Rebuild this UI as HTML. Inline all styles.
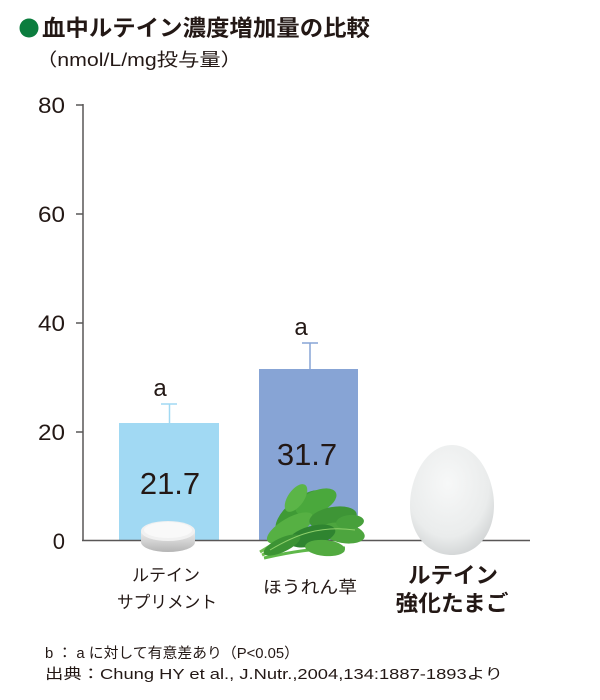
<!DOCTYPE html>
<html><head><meta charset="utf-8">
<style>
html,body{margin:0;padding:0;background:#fff;}
body{width:600px;height:700px;overflow:hidden;position:relative;}
svg{position:absolute;left:0;top:0;}
text{font-family:"Liberation Sans","Noto Sans CJK JP",sans-serif;fill:#231815;}
</style></head>
<body>
<svg width="600" height="700" viewBox="0 0 600 700" xmlns="http://www.w3.org/2000/svg">
<defs>
<radialGradient id="egg" cx="0.45" cy="0.35" r="0.75">
<stop offset="0" stop-color="#f7f8f8"/>
<stop offset="0.65" stop-color="#eaecec"/>
<stop offset="1" stop-color="#c8cbcc"/>
</radialGradient>
<linearGradient id="tabside" x1="0" y1="0" x2="0" y2="1">
<stop offset="0" stop-color="#eeeeee"/>
<stop offset="1" stop-color="#b5b5b5"/>
</linearGradient>
</defs>

<!-- title -->
<circle cx="29" cy="28" r="9.5" fill="#0b7d3e"/>
<text x="42" y="36" font-size="22.5" font-weight="bold" textLength="328" lengthAdjust="spacingAndGlyphs">血中ルテイン濃度増加量の比較</text>
<text x="36" y="66" font-size="18" textLength="206" lengthAdjust="spacingAndGlyphs">（nmol/L/mg投与量）</text>

<!-- bars -->
<rect x="119" y="423" width="100" height="117" fill="#a1d9f3"/>
<rect x="259" y="369" width="99" height="171" fill="#87a4d5"/>

<!-- error bars -->
<g stroke="#a1d9f3" stroke-width="1.5" fill="none">
<line x1="169.5" y1="423" x2="169.5" y2="404"/>
<line x1="161" y1="404" x2="177" y2="404"/>
</g>
<g stroke="#87a4d5" stroke-width="1.5" fill="none">
<line x1="310" y1="369" x2="310" y2="343"/>
<line x1="302" y1="343" x2="318" y2="343"/>
</g>
<text x="160" y="396" font-size="24" text-anchor="middle">a</text>
<text x="301" y="335" font-size="24" text-anchor="middle">a</text>

<!-- values -->
<text x="170" y="494" font-size="31" text-anchor="middle">21.7</text>
<text x="307" y="465" font-size="31" text-anchor="middle">31.7</text>

<!-- axes -->
<g stroke="#595757" stroke-width="1.5" fill="none">
<line x1="83" y1="104" x2="83" y2="540"/>
<line x1="82" y1="540.5" x2="530" y2="540.5"/>
<line x1="76" y1="105" x2="83" y2="105"/>
<line x1="76" y1="214" x2="83" y2="214"/>
<line x1="76" y1="323" x2="83" y2="323"/>
<line x1="76" y1="432" x2="83" y2="432"/>
</g>
<g font-size="22" text-anchor="end">
<text x="65" y="113" textLength="27" lengthAdjust="spacingAndGlyphs">80</text>
<text x="65" y="222" textLength="27" lengthAdjust="spacingAndGlyphs">60</text>
<text x="65" y="331" textLength="27" lengthAdjust="spacingAndGlyphs">40</text>
<text x="65" y="440" textLength="27" lengthAdjust="spacingAndGlyphs">20</text>
<text x="65" y="549">0</text>
</g>

<!-- tablet -->
<g>
<path d="M141 531 L141 542 A27 10 0 0 0 195 542 L195 531 Z" fill="url(#tabside)"/>
<ellipse cx="168" cy="531" rx="27" ry="10" fill="#f1f1f1"/>
<ellipse cx="168" cy="530" rx="24" ry="8" fill="#f9f9f9"/>
</g>

<!-- spinach -->
<g>
<path d="M262 555 C285 545 310 540 330 536" stroke="#6fbd4f" stroke-width="3" fill="none"/>
<path d="M264 558 C290 552 315 548 345 548" stroke="#5fb84a" stroke-width="3" fill="none"/>
<path d="M260 552 C280 540 300 528 315 515" stroke="#6fbd4f" stroke-width="3" fill="none"/>
<ellipse cx="300" cy="512" rx="30" ry="13" transform="rotate(-40 300 512)" fill="#3f9a35"/>
<ellipse cx="316" cy="502" rx="22" ry="11" transform="rotate(-25 316 502)" fill="#4aa83c"/>
<ellipse cx="290" cy="528" rx="26" ry="10" transform="rotate(-30 290 528)" fill="#56b043"/>
<ellipse cx="333" cy="518" rx="24" ry="11" transform="rotate(-10 333 518)" fill="#3e9536"/>
<ellipse cx="343" cy="533" rx="22" ry="10" transform="rotate(10 343 533)" fill="#4da53e"/>
<ellipse cx="312" cy="536" rx="24" ry="10" transform="rotate(-15 312 536)" fill="#2f8430"/>
<ellipse cx="325" cy="548" rx="20" ry="8" transform="rotate(5 325 548)" fill="#52aa40"/>
<ellipse cx="282" cy="545" rx="20" ry="7" transform="rotate(-25 282 545)" fill="#3c9334"/>
<ellipse cx="296" cy="498" rx="16" ry="8" transform="rotate(-55 296 498)" fill="#5bb547"/>
<ellipse cx="350" cy="522" rx="14" ry="7" transform="rotate(-5 350 522)" fill="#47a03b"/>
<path d="M270 550 C295 535 320 525 355 530" stroke="#8fd06b" stroke-width="1" fill="none"/>
</g>

<!-- egg -->
<path d="M452 445 C478 445 494 478 494 505 C494 535 476 555 452 555 C428 555 410 535 410 505 C410 478 426 445 452 445 Z" fill="url(#egg)"/>

<!-- category labels -->
<g font-size="17" text-anchor="middle">
<text x="166" y="581">ルテイン</text>
<text x="167" y="608" textLength="100" lengthAdjust="spacingAndGlyphs">サプリメント</text>
<text x="310" y="593" textLength="94" lengthAdjust="spacingAndGlyphs">ほうれん草</text>
</g>
<g font-size="22" font-weight="bold" text-anchor="middle">
<text x="453" y="583" textLength="90" lengthAdjust="spacingAndGlyphs">ルテイン</text>
<text x="452" y="611" textLength="113" lengthAdjust="spacingAndGlyphs">強化たまご</text>
</g>

<!-- footnotes -->
<text x="45" y="658" font-size="14.5" textLength="254" lengthAdjust="spacingAndGlyphs">b ： a に対して有意差あり（P&lt;0.05）</text>
<text x="45" y="679" font-size="14.5" textLength="458" lengthAdjust="spacingAndGlyphs">出典：Chung HY et al., J.Nutr.,2004,134:1887-1893より</text>
</svg>
</body></html>
